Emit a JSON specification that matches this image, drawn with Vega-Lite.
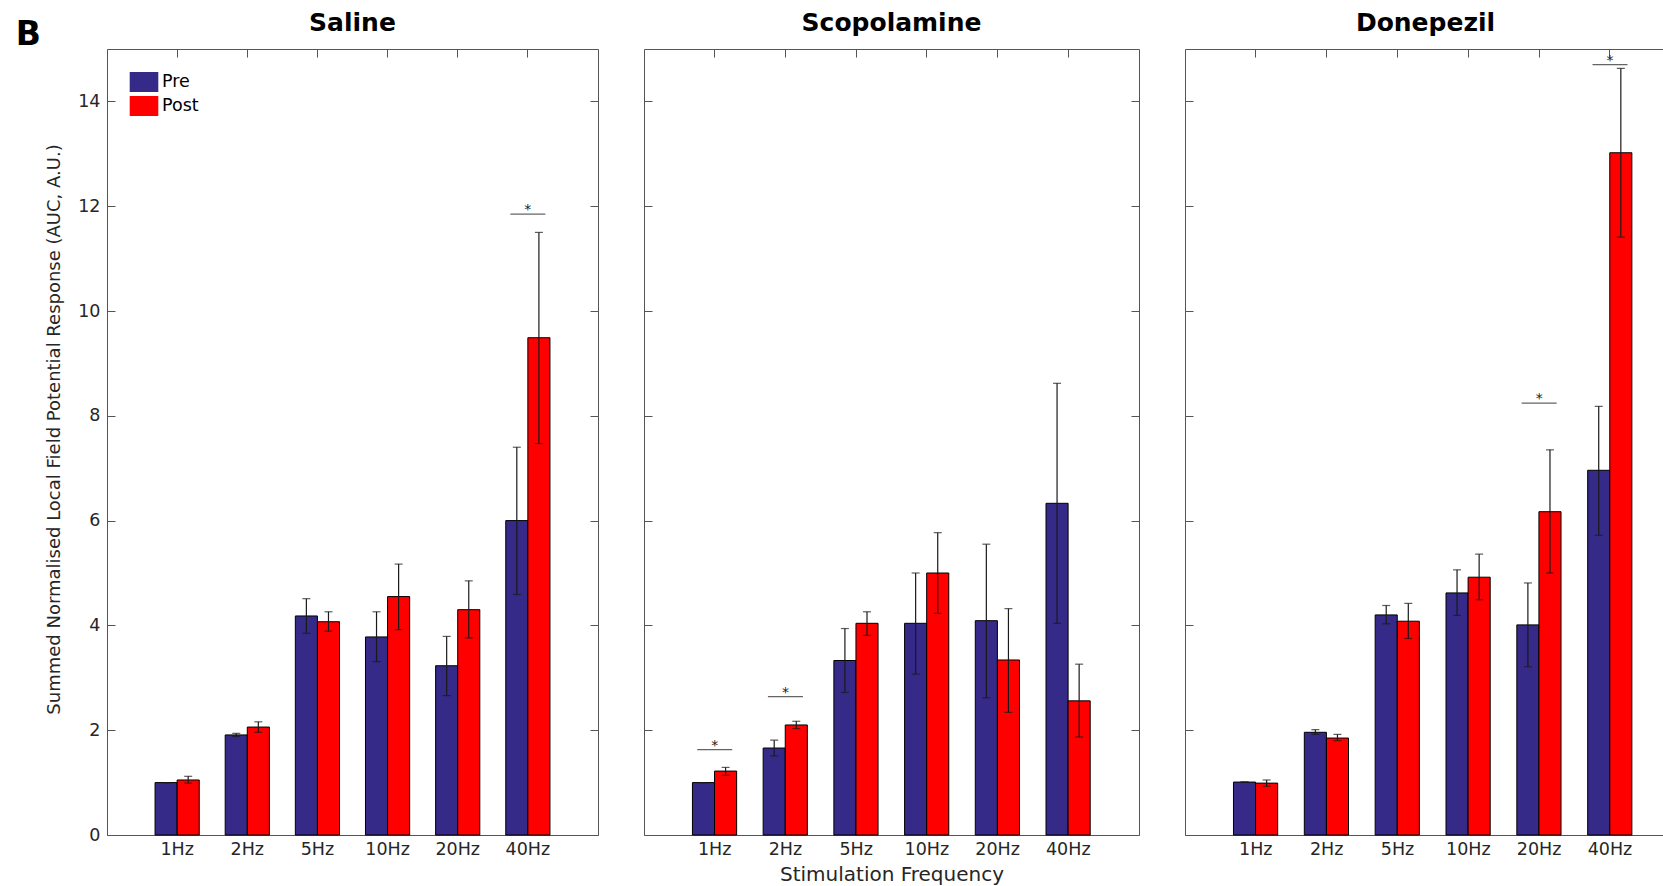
{
  "$schema": "https://vega.github.io/schema/vega-lite/v6.json",
  "padding": {"left": 15, "top": 10, "right": 0, "bottom": 0},
  "title": {"text": "B", "fontSize": 33, "fontWeight": "bold", "color": "#000", "anchor": "start", "frame": "bounds", "dx": -30, "dy": 67, "offset": 0, "baseline": "alphabetic"},
  "datasets": {
    "bars": [
      {"panel": "Saline", "freq": "1Hz", "phase": "Pre", "mean": 1.0, "lo": 1.0, "hi": 1.0},
      {"panel": "Saline", "freq": "1Hz", "phase": "Post", "mean": 1.05, "lo": 0.99, "hi": 1.12},
      {"panel": "Saline", "freq": "2Hz", "phase": "Pre", "mean": 1.91, "lo": 1.88, "hi": 1.94},
      {"panel": "Saline", "freq": "2Hz", "phase": "Post", "mean": 2.06, "lo": 1.96, "hi": 2.16},
      {"panel": "Saline", "freq": "5Hz", "phase": "Pre", "mean": 4.18, "lo": 3.85, "hi": 4.51},
      {"panel": "Saline", "freq": "5Hz", "phase": "Post", "mean": 4.07, "lo": 3.89, "hi": 4.26},
      {"panel": "Saline", "freq": "10Hz", "phase": "Pre", "mean": 3.78, "lo": 3.31, "hi": 4.26},
      {"panel": "Saline", "freq": "10Hz", "phase": "Post", "mean": 4.55, "lo": 3.92, "hi": 5.17},
      {"panel": "Saline", "freq": "20Hz", "phase": "Pre", "mean": 3.23, "lo": 2.66, "hi": 3.79},
      {"panel": "Saline", "freq": "20Hz", "phase": "Post", "mean": 4.30, "lo": 3.76, "hi": 4.85},
      {"panel": "Saline", "freq": "40Hz", "phase": "Pre", "mean": 6.0, "lo": 4.59, "hi": 7.40},
      {"panel": "Saline", "freq": "40Hz", "phase": "Post", "mean": 9.49, "lo": 7.47, "hi": 11.50},
      {"panel": "Scopolamine", "freq": "1Hz", "phase": "Pre", "mean": 1.0, "lo": 1.0, "hi": 1.0},
      {"panel": "Scopolamine", "freq": "1Hz", "phase": "Post", "mean": 1.22, "lo": 1.14, "hi": 1.29},
      {"panel": "Scopolamine", "freq": "2Hz", "phase": "Pre", "mean": 1.66, "lo": 1.51, "hi": 1.81},
      {"panel": "Scopolamine", "freq": "2Hz", "phase": "Post", "mean": 2.10, "lo": 2.03, "hi": 2.17},
      {"panel": "Scopolamine", "freq": "5Hz", "phase": "Pre", "mean": 3.33, "lo": 2.72, "hi": 3.94},
      {"panel": "Scopolamine", "freq": "5Hz", "phase": "Post", "mean": 4.04, "lo": 3.81, "hi": 4.26},
      {"panel": "Scopolamine", "freq": "10Hz", "phase": "Pre", "mean": 4.04, "lo": 3.07, "hi": 5.00},
      {"panel": "Scopolamine", "freq": "10Hz", "phase": "Post", "mean": 5.00, "lo": 4.23, "hi": 5.77},
      {"panel": "Scopolamine", "freq": "20Hz", "phase": "Pre", "mean": 4.09, "lo": 2.62, "hi": 5.55},
      {"panel": "Scopolamine", "freq": "20Hz", "phase": "Post", "mean": 3.34, "lo": 2.34, "hi": 4.32},
      {"panel": "Scopolamine", "freq": "40Hz", "phase": "Pre", "mean": 6.33, "lo": 4.04, "hi": 8.62},
      {"panel": "Scopolamine", "freq": "40Hz", "phase": "Post", "mean": 2.56, "lo": 1.87, "hi": 3.26},
      {"panel": "Donepezil", "freq": "1Hz", "phase": "Pre", "mean": 1.01, "lo": 1.01, "hi": 1.01},
      {"panel": "Donepezil", "freq": "1Hz", "phase": "Post", "mean": 0.99, "lo": 0.93, "hi": 1.05},
      {"panel": "Donepezil", "freq": "2Hz", "phase": "Pre", "mean": 1.96, "lo": 1.92, "hi": 2.01},
      {"panel": "Donepezil", "freq": "2Hz", "phase": "Post", "mean": 1.85, "lo": 1.80, "hi": 1.92},
      {"panel": "Donepezil", "freq": "5Hz", "phase": "Pre", "mean": 4.20, "lo": 4.03, "hi": 4.38},
      {"panel": "Donepezil", "freq": "5Hz", "phase": "Post", "mean": 4.08, "lo": 3.75, "hi": 4.42},
      {"panel": "Donepezil", "freq": "10Hz", "phase": "Pre", "mean": 4.62, "lo": 4.19, "hi": 5.06},
      {"panel": "Donepezil", "freq": "10Hz", "phase": "Post", "mean": 4.92, "lo": 4.49, "hi": 5.36},
      {"panel": "Donepezil", "freq": "20Hz", "phase": "Pre", "mean": 4.01, "lo": 3.21, "hi": 4.81},
      {"panel": "Donepezil", "freq": "20Hz", "phase": "Post", "mean": 6.17, "lo": 5.00, "hi": 7.35},
      {"panel": "Donepezil", "freq": "40Hz", "phase": "Pre", "mean": 6.96, "lo": 5.72, "hi": 8.18},
      {"panel": "Donepezil", "freq": "40Hz", "phase": "Post", "mean": 13.02, "lo": 11.41, "hi": 14.63}
    ],
    "sig": [
      {"panel": "Saline", "freq": "40Hz", "y": 11.85},
      {"panel": "Scopolamine", "freq": "1Hz", "y": 1.63},
      {"panel": "Scopolamine", "freq": "2Hz", "y": 2.64},
      {"panel": "Donepezil", "freq": "20Hz", "y": 8.24},
      {"panel": "Donepezil", "freq": "40Hz", "y": 14.70}
    ]
  },
  "spacing": 44,
  "resolve": {"scale": {"color": "independent"}},
  "hconcat": [
    {
      "width": 491, "height": 786,
      "title": {"text": "Saline"},
      "layer": [
        {
          "data": {"name": "bars"},
          "transform": [{"filter": "datum.panel === 'Saline'"}],
          "mark": {"type": "bar", "stroke": "#000", "strokeWidth": 1},
          "encoding": {
            "x": {"field": "freq", "type": "nominal", "scale": {"domain": ["1Hz", "2Hz", "5Hz", "10Hz", "20Hz", "40Hz"], "paddingInner": 0.37, "paddingOuter": 0.685}, "axis": {"orient": "bottom", "title": null}},
            "xOffset": {"field": "phase", "type": "nominal", "scale": {"domain": ["Pre", "Post"], "paddingInner": 0, "paddingOuter": 0}},
            "y": {"field": "mean", "type": "quantitative", "scale": {"domain": [0, 15], "nice": false}, "axis": {"orient": "left", "values": [0, 2, 4, 6, 8, 10, 12, 14], "title": "Summed Normalised Local Field Potential Response (AUC, A.U.)", "titleY": 380}},
            "color": {"field": "phase", "type": "nominal", "scale": {"domain": ["Pre", "Post"], "range": ["#352A87", "#FF0000"]}, "legend": {"orient": "none", "legendX": 27, "legendY": 23, "title": null}}
          }
        },
        {
          "data": {"name": "bars"},
          "transform": [{"filter": "datum.panel === 'Saline'"}],
          "mark": {"type": "rule", "color": "#1a1a1a", "strokeWidth": 1.2},
          "encoding": {
            "x": {"field": "freq", "type": "nominal", "axis": {"orient": "top", "labels": false, "title": null}},
            "xOffset": {"field": "phase", "type": "nominal"},
            "y": {"field": "lo", "type": "quantitative", "axis": {"orient": "right", "labels": false, "values": [0, 2, 4, 6, 8, 10, 12, 14], "title": null}},
            "y2": {"field": "hi"}
          }
        },
        {
          "data": {"name": "bars"},
          "transform": [{"filter": "datum.panel === 'Saline'"}],
          "mark": {"type": "tick", "orient": "horizontal", "size": 8, "thickness": 1.2, "color": "#1a1a1a"},
          "encoding": {
            "x": {"field": "freq", "type": "nominal", "axis": null},
            "xOffset": {"field": "phase", "type": "nominal"},
            "y": {"field": "lo", "type": "quantitative", "axis": null}
          }
        },
        {
          "data": {"name": "bars"},
          "transform": [{"filter": "datum.panel === 'Saline'"}],
          "mark": {"type": "tick", "orient": "horizontal", "size": 8, "thickness": 1.2, "color": "#1a1a1a"},
          "encoding": {
            "x": {"field": "freq", "type": "nominal", "axis": null},
            "xOffset": {"field": "phase", "type": "nominal"},
            "y": {"field": "hi", "type": "quantitative", "axis": null}
          }
        },
        {
          "data": {"name": "sig"},
          "transform": [{"filter": "datum.panel === 'Saline'"}],
          "mark": {"type": "tick", "orient": "horizontal", "size": 35, "thickness": 1.3, "color": "#222"},
          "encoding": {
            "x": {"field": "freq", "type": "nominal", "axis": null},
            "y": {"field": "y", "type": "quantitative", "axis": null}
          }
        },
        {
          "data": {"name": "sig"},
          "transform": [{"filter": "datum.panel === 'Saline'"}],
          "mark": {"type": "text", "text": "*", "fontSize": 14, "baseline": "alphabetic", "color": "#222", "fill": "#222"},
          "encoding": {
            "x": {"field": "freq", "type": "nominal", "axis": null},
            "y": {"field": "y", "type": "quantitative", "axis": null}
          }
        }
      ],
      "resolve": {"axis": {"x": "independent", "y": "independent"}}
    },
    {
      "width": 495, "height": 786,
      "title": {"text": "Scopolamine"},
      "layer": [
        {
          "data": {"name": "bars"},
          "transform": [{"filter": "datum.panel === 'Scopolamine'"}],
          "mark": {"type": "bar", "stroke": "#000", "strokeWidth": 1},
          "encoding": {
            "x": {"field": "freq", "type": "nominal", "scale": {"domain": ["1Hz", "2Hz", "5Hz", "10Hz", "20Hz", "40Hz"], "paddingInner": 0.37, "paddingOuter": 0.685}, "axis": {"orient": "bottom", "title": "Stimulation Frequency"}},
            "xOffset": {"field": "phase", "type": "nominal", "scale": {"domain": ["Pre", "Post"], "paddingInner": 0, "paddingOuter": 0}},
            "y": {"field": "mean", "type": "quantitative", "scale": {"domain": [0, 15], "nice": false}, "axis": {"orient": "left", "labels": false, "values": [0, 2, 4, 6, 8, 10, 12, 14], "title": null}},
            "color": {"field": "phase", "type": "nominal", "scale": {"domain": ["Pre", "Post"], "range": ["#352A87", "#FF0000"]}, "legend": null}
          }
        },
        {
          "data": {"name": "bars"},
          "transform": [{"filter": "datum.panel === 'Scopolamine'"}],
          "mark": {"type": "rule", "color": "#1a1a1a", "strokeWidth": 1.2},
          "encoding": {
            "x": {"field": "freq", "type": "nominal", "axis": {"orient": "top", "labels": false, "title": null}},
            "xOffset": {"field": "phase", "type": "nominal"},
            "y": {"field": "lo", "type": "quantitative", "axis": {"orient": "right", "labels": false, "values": [0, 2, 4, 6, 8, 10, 12, 14], "title": null}},
            "y2": {"field": "hi"}
          }
        },
        {
          "data": {"name": "bars"},
          "transform": [{"filter": "datum.panel === 'Scopolamine'"}],
          "mark": {"type": "tick", "orient": "horizontal", "size": 8, "thickness": 1.2, "color": "#1a1a1a"},
          "encoding": {
            "x": {"field": "freq", "type": "nominal", "axis": null},
            "xOffset": {"field": "phase", "type": "nominal"},
            "y": {"field": "lo", "type": "quantitative", "axis": null}
          }
        },
        {
          "data": {"name": "bars"},
          "transform": [{"filter": "datum.panel === 'Scopolamine'"}],
          "mark": {"type": "tick", "orient": "horizontal", "size": 8, "thickness": 1.2, "color": "#1a1a1a"},
          "encoding": {
            "x": {"field": "freq", "type": "nominal", "axis": null},
            "xOffset": {"field": "phase", "type": "nominal"},
            "y": {"field": "hi", "type": "quantitative", "axis": null}
          }
        },
        {
          "data": {"name": "sig"},
          "transform": [{"filter": "datum.panel === 'Scopolamine'"}],
          "mark": {"type": "tick", "orient": "horizontal", "size": 35, "thickness": 1.3, "color": "#222"},
          "encoding": {
            "x": {"field": "freq", "type": "nominal", "axis": null},
            "y": {"field": "y", "type": "quantitative", "axis": null}
          }
        },
        {
          "data": {"name": "sig"},
          "transform": [{"filter": "datum.panel === 'Scopolamine'"}],
          "mark": {"type": "text", "text": "*", "fontSize": 14, "baseline": "alphabetic", "color": "#222", "fill": "#222"},
          "encoding": {
            "x": {"field": "freq", "type": "nominal", "axis": null},
            "y": {"field": "y", "type": "quantitative", "axis": null}
          }
        }
      ],
      "resolve": {"axis": {"x": "independent", "y": "independent"}}
    },
    {
      "width": 481, "height": 786,
      "title": {"text": "Donepezil"},
      "layer": [
        {
          "data": {"name": "bars"},
          "transform": [{"filter": "datum.panel === 'Donepezil'"}],
          "mark": {"type": "bar", "stroke": "#000", "strokeWidth": 1},
          "encoding": {
            "x": {"field": "freq", "type": "nominal", "scale": {"domain": ["1Hz", "2Hz", "5Hz", "10Hz", "20Hz", "40Hz"], "paddingInner": 0.37, "paddingOuter": 0.58, "align": 0.59}, "axis": {"orient": "bottom", "title": null}},
            "xOffset": {"field": "phase", "type": "nominal", "scale": {"domain": ["Pre", "Post"], "paddingInner": 0, "paddingOuter": 0}},
            "y": {"field": "mean", "type": "quantitative", "scale": {"domain": [0, 15], "nice": false}, "axis": {"orient": "left", "labels": false, "values": [0, 2, 4, 6, 8, 10, 12, 14], "title": null}},
            "color": {"field": "phase", "type": "nominal", "scale": {"domain": ["Pre", "Post"], "range": ["#352A87", "#FF0000"]}, "legend": null}
          }
        },
        {
          "data": {"name": "bars"},
          "transform": [{"filter": "datum.panel === 'Donepezil'"}],
          "mark": {"type": "rule", "color": "#1a1a1a", "strokeWidth": 1.2},
          "encoding": {
            "x": {"field": "freq", "type": "nominal", "axis": {"orient": "top", "labels": false, "title": null}},
            "xOffset": {"field": "phase", "type": "nominal"},
            "y": {"field": "lo", "type": "quantitative", "axis": null},
            "y2": {"field": "hi"}
          }
        },
        {
          "data": {"name": "bars"},
          "transform": [{"filter": "datum.panel === 'Donepezil'"}],
          "mark": {"type": "tick", "orient": "horizontal", "size": 8, "thickness": 1.2, "color": "#1a1a1a"},
          "encoding": {
            "x": {"field": "freq", "type": "nominal", "axis": null},
            "xOffset": {"field": "phase", "type": "nominal"},
            "y": {"field": "lo", "type": "quantitative", "axis": null}
          }
        },
        {
          "data": {"name": "bars"},
          "transform": [{"filter": "datum.panel === 'Donepezil'"}],
          "mark": {"type": "tick", "orient": "horizontal", "size": 8, "thickness": 1.2, "color": "#1a1a1a"},
          "encoding": {
            "x": {"field": "freq", "type": "nominal", "axis": null},
            "xOffset": {"field": "phase", "type": "nominal"},
            "y": {"field": "hi", "type": "quantitative", "axis": null}
          }
        },
        {
          "data": {"name": "sig"},
          "transform": [{"filter": "datum.panel === 'Donepezil'"}],
          "mark": {"type": "tick", "orient": "horizontal", "size": 35, "thickness": 1.3, "color": "#222"},
          "encoding": {
            "x": {"field": "freq", "type": "nominal", "axis": null},
            "y": {"field": "y", "type": "quantitative", "axis": null}
          }
        },
        {
          "data": {"name": "sig"},
          "transform": [{"filter": "datum.panel === 'Donepezil'"}],
          "mark": {"type": "text", "text": "*", "fontSize": 14, "baseline": "alphabetic", "color": "#222", "fill": "#222"},
          "encoding": {
            "x": {"field": "freq", "type": "nominal", "axis": null},
            "y": {"field": "y", "type": "quantitative", "axis": null}
          }
        }
      ],
      "resolve": {"axis": {"x": "independent", "y": "independent"}}
    }
  ],
  "config": {
    "font": "DejaVu Sans",
    "view": {"stroke": null},
    "title": {"fontSize": 25, "fontWeight": "bold", "color": "#000", "baseline": "alphabetic", "offset": 13, "font": "DejaVu Sans"},
    "axis": {
      "grid": false,
      "domainColor": "#555",
      "domainWidth": 1,
      "tickColor": "#555",
      "tickWidth": 1,
      "tickSize": -8,
      "labelColor": "#262626",
      "labelFontSize": 17.5,
      "labelFont": "DejaVu Sans",
      "titleFont": "DejaVu Sans",
      "titleFontWeight": "normal",
      "titleColor": "#262626"
    },
    "axisX": {"labelAngle": 0, "labelPadding": 13, "titleFontSize": 20, "titlePadding": 7},
    "axisY": {"labelPadding": 15, "titleFontSize": 18, "titlePadding": 14},
    "legend": {
      "labelFontSize": 17.5,
      "labelColor": "#000",
      "symbolType": "M-1.43,-1H1.43V1H-1.43Z",
      "symbolSize": 400,
      "symbolStrokeWidth": 0,
      "symbolOpacity": 1,
      "rowPadding": 4,
      "labelOffset": 8,
      "padding": 0
    }
  }
}
